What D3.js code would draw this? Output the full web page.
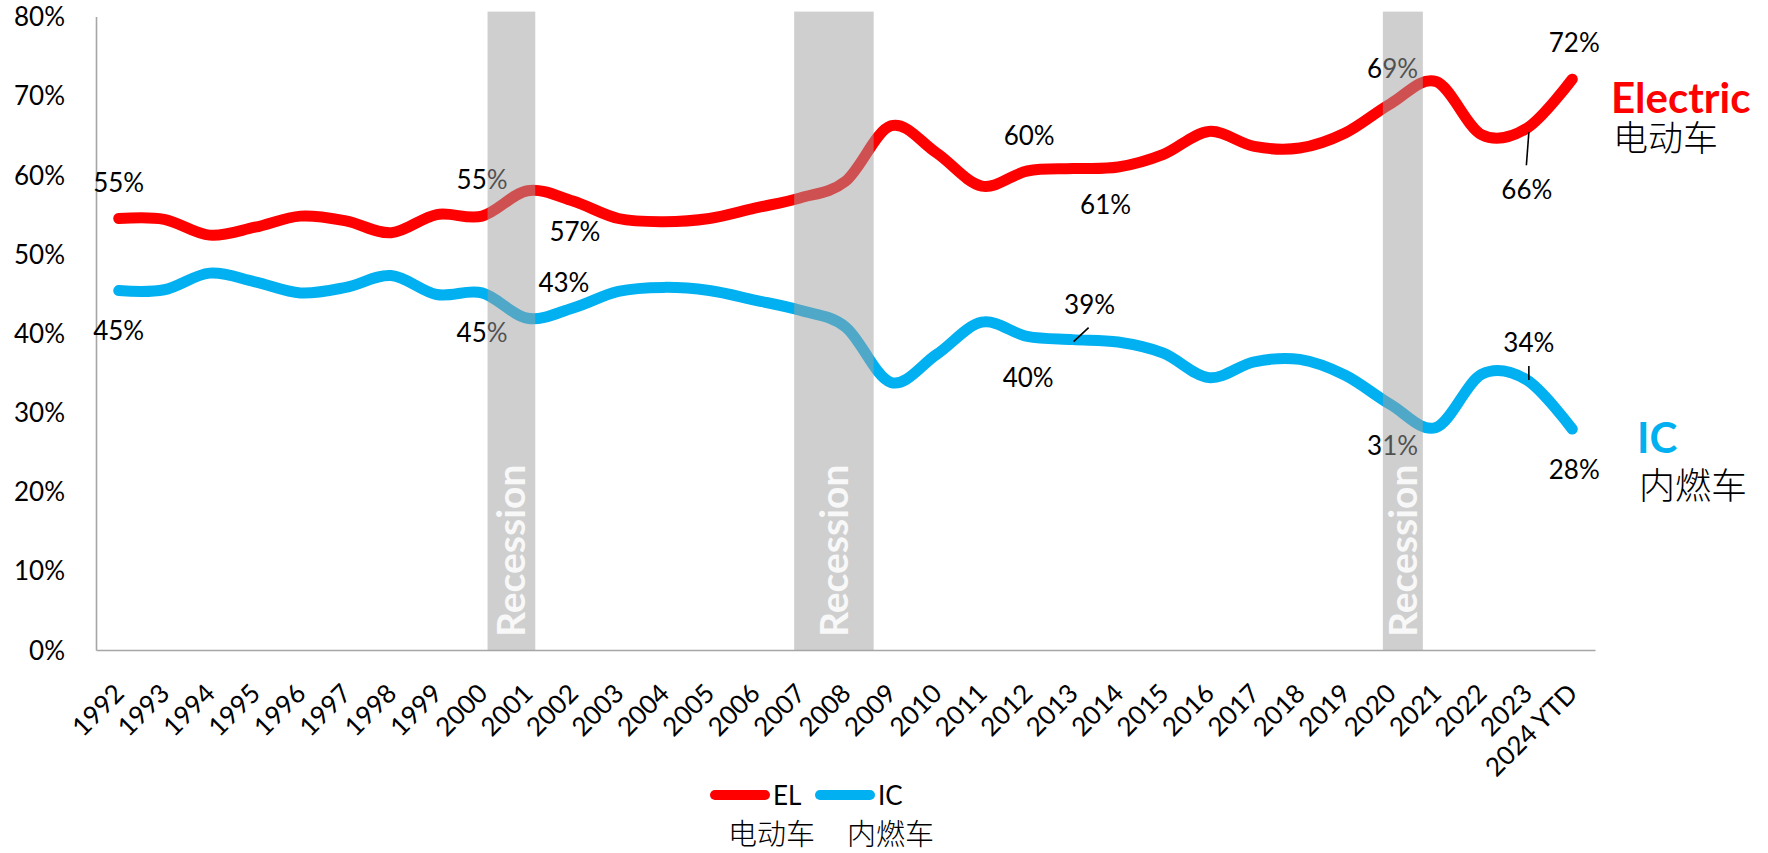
<!DOCTYPE html>
<html><head><meta charset="utf-8">
<script src="https://cdn.jsdelivr.net/npm/d3@7"></script>
<style>
html,body{margin:0;padding:0;background:#fff;}
svg{display:block;}
</style></head><body>
<svg id="chart" width="1768" height="853"></svg>
<script>
// ---------------- data ----------------
const categories = ["1992","1993","1994","1995","1996","1997","1998","1999","2000","2001","2002","2003","2004","2005","2006","2007","2008","2009","2010","2011","2012","2013","2014","2015","2016","2017","2018","2019","2020","2021","2022","2023","2024 YTD"];
const elValues = [54.5,54.4,52.4,53.4,54.8,54.2,52.7,55.0,54.8,58.0,56.7,54.5,54.1,54.5,55.8,57.1,59.2,66.2,62.8,58.6,60.5,60.8,61.0,62.6,65.5,63.6,63.4,65.3,69.0,71.8,65.1,65.9,72.1];
const icValues = [45.4,45.5,47.6,46.5,45.1,45.8,47.3,44.9,45.1,41.9,43.2,45.3,45.8,45.4,44.2,42.9,40.8,33.8,37.3,41.4,39.6,39.2,38.9,37.5,34.4,36.4,36.7,34.7,31.0,28.1,34.8,34.1,27.9];
const yTicks = [0,10,20,30,40,50,60,70,80];
const recessionStart = [2000.12, 2006.87, 2019.83];
const recessionEnd   = [2001.17, 2008.62, 2020.71];
const recessionLabel = "Recession";
const seriesNames = ["EL","IC"];
const seriesNamesZh = ["电动车","内燃车"];
const endLabels = ["Electric","IC"];
const endLabelsZh = ["电动车","内燃车"];
const labelCats   = ["1992","1992","2000","2000","2002","2002","2012","2013","2013","2012","2020","2020","2024 YTD","2024 YTD","2023","2023"];
const labelSeries = ["EL","IC","EL","IC","EL","IC","EL","EL","IC","IC","EL","IC","EL","IC","EL","IC"];
const labelTexts  = ["55%","45%","55%","45%","57%","43%","60%","61%","39%","40%","69%","31%","72%","28%","66%","34%"];

// ---------------- layout ----------------
const colors = {EL:"#FF0000", IC:"#00B0F0"};
const latin = "Lato, 'Open Sans', sans-serif";
const cjk = "'Noto Sans CJK SC', 'Noto Sans', sans-serif";
// label offsets (dx, dy from the point), leader lines
const labelOffsets = [[0,-36],[0,40],[0,-36],[0,40],[2,31],[-9,-25],[2,-35],[33,36],[17,-35],[1,41],[2,-35],[2,41],[2,-36],[2,41],[0,62],[2,-37]];
const leaders = { "14":[[2,4],[-0.5,37]], "8":[[16,-12],[1,2]], "15":[[2,-14],[2,0]] };

const svg = d3.select("#chart");
const x = d3.scaleBand().domain(categories).range([96,1595]).padding(0);
const y = d3.scaleLinear().domain([0,80]).range([650,16.6]);
const cx = c => x(c) + x.bandwidth()/2;
const yearX = d3.scaleLinear().domain([1992,2024]).range([cx(categories[0]), cx(categories[categories.length-1])]);
const seriesVals = {EL: elValues, IC: icValues};

// axes
const yAxis = svg.append("g").attr("transform","translate(96,0)")
  .call(d3.axisLeft(y).tickValues(yTicks).tickFormat(d=>d+"%").tickSize(0).tickSizeOuter(0).tickPadding(31));
yAxis.select(".domain").attr("stroke","#A6A6A6").attr("stroke-width",1.6);
yAxis.selectAll("text").attr("font-family",latin).attr("font-size",26).attr("fill","#000").attr("dy","0.35em");

const xAxis = svg.append("g").attr("transform","translate(0,650)")
  .call(d3.axisBottom(x).tickSize(0).tickSizeOuter(0));
xAxis.select(".domain").attr("stroke","#A6A6A6").attr("stroke-width",1.6);
xAxis.selectAll("text").attr("font-family",latin).attr("font-size",26).attr("fill","#000")
  .attr("x",0).attr("y",0).attr("dy",0).attr("text-anchor","end")
  .attr("transform","translate(7,45) rotate(-45)");

// lines
const line = d3.line().x((d,i)=>cx(categories[i])).y(d=>y(d)).curve(d3.curveCatmullRom.alpha(0));
["IC","EL"].forEach(s=>{
  svg.append("path").datum(seriesVals[s]).attr("d",line).attr("fill","none")
    .attr("stroke",colors[s]).attr("stroke-width",11).attr("stroke-linecap","round").attr("stroke-linejoin","round");
});

// data labels
labelTexts.forEach((t,k)=>{
  const c = labelCats[k], s = labelSeries[k];
  const px = cx(c), py = y(seriesVals[s][categories.indexOf(c)]);
  const [dx,dy] = labelOffsets[k];
  svg.append("text").attr("x",px+dx).attr("y",py+dy).attr("dy","0.35em")
    .attr("text-anchor","middle").attr("font-family",latin).attr("font-size",26).attr("fill","#000").text(t);
  if (leaders[k]) {
    const [[x1,y1],[x2,y2]] = leaders[k];
    svg.append("line").attr("x1",px+x1).attr("y1",py+y1).attr("x2",px+x2).attr("y2",py+y2)
      .attr("stroke","#000").attr("stroke-width",1.6);
  }
});

// recession bands (semi-transparent, on top)
recessionStart.forEach((st,k)=>{
  const x0 = yearX(st), x1 = yearX(recessionEnd[k]);
  svg.append("rect").attr("x",x0).attr("y",y(80)-5).attr("width",x1-x0).attr("height",y(0)-(y(80)-5))
    .attr("fill","rgb(160,160,160)").attr("fill-opacity",0.5);
  svg.append("text").attr("transform",`translate(${(x0+x1)/2+14},637) rotate(-90)`)
    .attr("text-anchor","start").attr("font-family",latin).attr("font-weight",700).attr("font-size",39)
    .attr("fill","#F8F8F8").text(recessionLabel);
});

// end labels
const lastIdx = categories.length-1;
const endPos = [
  {x: x.range()[1]+16, yb: y(elValues[lastIdx])+34, yz: y(elValues[lastIdx])+72, size:42, zsize:35},
  {x: x.range()[1]+42, yb: y(icValues[lastIdx])+24, yz: y(icValues[lastIdx])+70, size:42, zsize:36}
];
endLabels.forEach((t,k)=>{
  const p = endPos[k];
  svg.append("text").attr("x",p.x).attr("y",p.yb).attr("font-family",latin).attr("font-weight",700)
    .attr("font-size",p.size).attr("fill",colors[seriesNames[k]]).text(t);
  svg.append("text").attr("x",p.x+2).attr("y",p.yz).attr("font-family",cjk).attr("font-weight",300)
    .attr("font-size",p.zsize).attr("fill","#000").text(endLabelsZh[k]);
});

// legend
const lg = svg.append("g").attr("transform","translate(710,795)");
const legendItems = [{dx:0, zdx:18},{dx:105, zdx:137}];
seriesNames.forEach((s,k)=>{
  const it = legendItems[k];
  lg.append("line").attr("x1",it.dx+5).attr("x2",it.dx+55).attr("y1",0).attr("y2",0)
    .attr("stroke",colors[s]).attr("stroke-width",10).attr("stroke-linecap","round");
  lg.append("text").attr("x",it.dx+63).attr("y",10).attr("font-family",latin).attr("font-size",26)
    .attr("fill","#000").text(s);
  lg.append("text").attr("x",it.zdx).attr("y",50).attr("font-family",cjk).attr("font-weight",300)
    .attr("font-size",29).attr("fill","#000").text(seriesNamesZh[k]);
});
</script>
</body></html>
